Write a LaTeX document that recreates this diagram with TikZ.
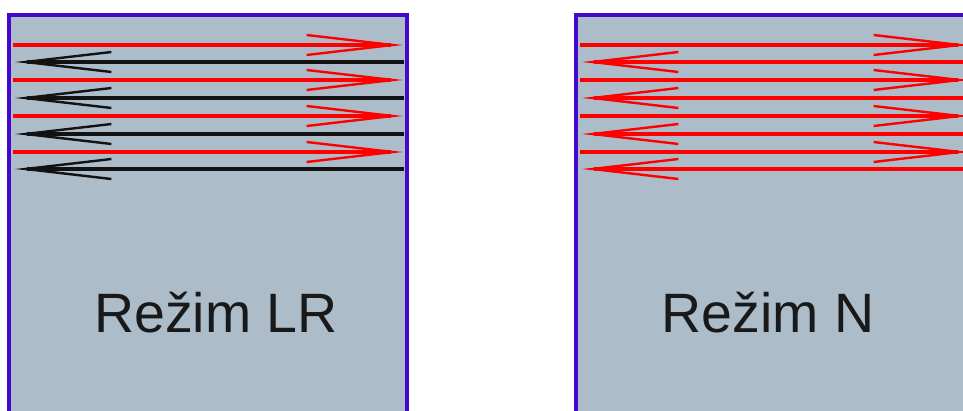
\documentclass[tikz,border=0pt]{standalone}
\usepackage{fontspec}
\setmainfont{Liberation Sans}
\usepackage{tikz}
\usetikzlibrary{arrows.meta}
\usepackage{xcolor}
\definecolor{panel}{RGB}{172,188,200}
\definecolor{frame}{RGB}{68,8,204}
\definecolor{beam}{RGB}{255,0,0}
\definecolor{ret}{RGB}{18,18,18}
\definecolor{label}{RGB}{25,25,25}

\begin{document}
\begin{tikzpicture}[x=1pt,y=-1pt,
  ray/.style={line width=3.6pt,-{Straight Barb[length=86pt,width=20pt,line width=2.4pt]}},
  modelabel/.style={anchor=base,text=label,font=\fontsize{55.5}{60}\selectfont}]
\useasboundingbox (0,0) rectangle (963,411);
\clip (0,0) rectangle (963,411);
% left panel
\draw[line width=4pt,draw=frame,fill=panel] (9,15) rectangle (407,440);
\draw[ray,beam] (13,45) -- (403,45);
\draw[ray,ret] (404,62) -- (15,62);
\draw[ray,beam] (13,80) -- (403,80);
\draw[ray,ret] (404,98) -- (15,98);
\draw[ray,beam] (13,116) -- (403,116);
\draw[ray,ret] (404,134) -- (15,134);
\draw[ray,beam] (13,152) -- (403,152);
\draw[ray,ret] (404,169) -- (15,169);
\node[modelabel] (lr) at (216,333) {Režim LR};
% right panel
\draw[line width=4pt,draw=frame,fill=panel] (576,15) rectangle (974,440);
\draw[ray,beam] (580,45) -- (970,45);
\draw[ray,beam] (971,62) -- (582,62);
\draw[ray,beam] (580,80) -- (970,80);
\draw[ray,beam] (971,98) -- (582,98);
\draw[ray,beam] (580,116) -- (970,116);
\draw[ray,beam] (971,134) -- (582,134);
\draw[ray,beam] (580,152) -- (970,152);
\draw[ray,beam] (971,169) -- (582,169);
\node[modelabel] (n) at (768,333) {Režim N};
\end{tikzpicture}
\end{document}
